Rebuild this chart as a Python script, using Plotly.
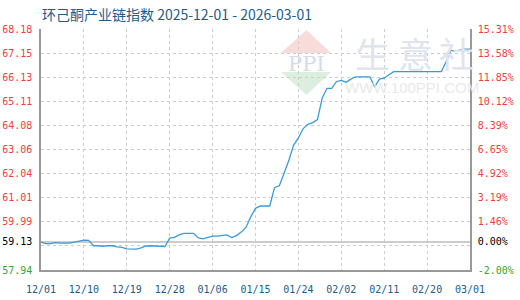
import pandas as pd
import plotly.graph_objects as go

# ---------------- data ----------------
START_DATE = "2025-12-01"
END_DATE = "2026-03-01"
INDEX_VALUES = [
    59.13, 59.06, 59.06, 59.10, 59.08, 59.08, 59.08, 59.12, 59.17, 59.21,
    59.20, 58.97, 58.97, 58.95, 58.97, 58.97, 58.92, 58.90, 58.84, 58.83,
    58.83, 58.88, 58.96, 58.97, 58.95, 58.95, 58.94, 59.30, 59.33, 59.43,
    59.50, 59.50, 59.50, 59.30, 59.26, 59.33, 59.38, 59.38, 59.40, 59.43,
    59.32, 59.40, 59.55, 59.75, 60.20, 60.56, 60.66, 60.66, 60.66, 61.45,
    61.52, 62.05, 62.60, 63.25, 63.55, 63.95, 64.13, 64.20, 64.33, 65.25,
    65.66, 65.66, 65.95, 66.00, 65.92, 66.05, 66.15, 66.15, 66.15, 66.15,
    65.72, 66.05, 66.10, 66.23, 66.37, 66.37, 66.37, 66.37, 66.37, 66.37,
    66.37, 66.37, 66.37, 66.37, 66.37, 66.80, 67.28, 67.22, 67.30, 67.32,
    67.32,
]
Y_MIN = 57.94
Y_MAX = 68.18
BASE_VALUE = 59.13
LEFT_TICK_LABELS = ["57.94", "", "59.99", "61.01", "62.04", "63.06",
                    "64.08", "65.11", "66.13", "67.15", "68.18"]
RIGHT_TICK_LABELS = ["-2.00%", "", "1.46%", "3.19%", "4.92%", "6.65%",
                     "8.39%", "10.12%", "11.85%", "13.58%", "15.31%"]
BASE_LEFT_LABEL = "59.13"
BASE_RIGHT_LABEL = "0.00%"
X_TICK_STEP_DAYS = 9
TITLE = "环己酮产业链指数 2025-12-01 - 2026-03-01"

# ---------------- styling ----------------
W, H = 520, 300
ML, MR, MT, MB = 41, 50, 29, 30
RED = "#f03c3c"
GREEN = "#30a830"
BLACK = "#000000"
BLUE_TXT = "#1d5c8c"
LINE_COLOR = "#3a9ad9"
GRID = "#cccccc"
AXIS = "#999999"
TICK_FONT = dict(family="DejaVu Sans Mono", size=10)

dates = pd.date_range(START_DATE, END_DATE, freq="D")
xticks = pd.date_range(START_DATE, END_DATE, freq=f"{X_TICK_STEP_DAYS}D")

n = len(LEFT_TICK_LABELS) - 1
step = (Y_MAX - Y_MIN) / n
grid_vals = [Y_MIN + k * step for k in range(n + 1)]


def colored(txt, color):
    return f'<span style="color:{color}">{txt}</span>' if txt else ""


left_vals = grid_vals + [BASE_VALUE]
left_text = []
for i, t in enumerate(LEFT_TICK_LABELS):
    left_text.append(colored(t, GREEN if i == 0 else RED))
left_text.append(colored(BASE_LEFT_LABEL, BLACK))

right_text = []
for i, t in enumerate(RIGHT_TICK_LABELS):
    right_text.append(colored(t, GREEN if i == 0 else RED))
right_text.append(colored(BASE_RIGHT_LABEL, BLACK))

fig = go.Figure()
fig.add_trace(go.Scatter(
    x=dates, y=INDEX_VALUES, mode="lines",
    line=dict(color=LINE_COLOR, width=1.3), hoverinfo="x+y",
    showlegend=False, yaxis="y"))
fig.add_trace(go.Scatter(
    x=dates, y=INDEX_VALUES, mode="lines",
    line=dict(color="rgba(0,0,0,0)", width=0), hoverinfo="skip",
    showlegend=False, yaxis="y2"))


def px_x(p):
    return (p - ML) / (W - ML - MR)


def px_y(p):
    return (H - MB - p) / (H - MT - MB)


shapes = []
# watermark logo (decoration)
shapes.append(dict(type="path", xref="paper", yref="paper", layer="between",
                   path=f"M {px_x(281)} {px_y(53)} L {px_x(306.5)} {px_y(30)} L {px_x(331)} {px_y(53)} Z",
                   fillcolor="#f7dcd9", line=dict(width=0)))
shapes.append(dict(type="path", xref="paper", yref="paper", layer="between",
                   path=f"M {px_x(281)} {px_y(72)} L {px_x(306.5)} {px_y(95)} L {px_x(331)} {px_y(72)} Z",
                   fillcolor="#dcefdf", line=dict(width=0)))
# baseline
shapes.append(dict(type="line", xref="paper", yref="y", x0=0, x1=1,
                   y0=BASE_VALUE, y1=BASE_VALUE,
                   line=dict(color=AXIS, width=1.2), layer="between"))

WM_FONT = dict(family="Noto Sans CJK SC", size=35, color="#dfe4ee")
annotations = [
    dict(text="PPI", xref="paper", yref="paper", x=px_x(306), y=px_y(63.5),
         showarrow=False, font=dict(family="DejaVu Serif", size=21, color="#d3dcec"),
         xanchor="center", yanchor="middle"),
    dict(text="生", xref="paper", yref="paper", x=px_x(372), y=px_y(52),
         showarrow=False, font=WM_FONT, xanchor="center", yanchor="middle"),
    dict(text="意", xref="paper", yref="paper", x=px_x(415), y=px_y(52),
         showarrow=False, font=WM_FONT, xanchor="center", yanchor="middle"),
    dict(text="社", xref="paper", yref="paper", x=px_x(456), y=px_y(52),
         showarrow=False, font=WM_FONT, xanchor="center", yanchor="middle"),
    dict(text="WWW.100PPI.COM", xref="paper", yref="paper", x=px_x(412), y=px_y(87),
         showarrow=False, font=dict(family="Liberation Sans", size=15, color="#e9e9e9"),
         xanchor="center", yanchor="middle"),
    dict(text=TITLE, xref="paper", yref="paper", x=px_x(40), y=px_y(14),
         showarrow=False, xanchor="left", yanchor="middle",
         font=dict(family="Noto Sans CJK SC", size=14, color=BLUE_TXT)),
]

fig.update_layout(
    width=W, height=H,
    margin=dict(l=ML, r=MR, t=MT, b=MB, autoexpand=False),
    paper_bgcolor="white", plot_bgcolor="rgba(0,0,0,0)",
    xaxis=dict(type="date", range=[dates[0], dates[-1]], automargin=False,
               tickvals=list(xticks), tickformat="%m/%d",
               showgrid=True, gridcolor=GRID, griddash="3px,3px", gridwidth=1,
               showline=True, linecolor=AXIS, linewidth=1.5,
               ticks="", ticklabelstandoff=9,
               tickfont=dict(TICK_FONT, color=BLUE_TXT), zeroline=False),
    yaxis=dict(range=[Y_MIN, Y_MAX], tickvals=left_vals, ticktext=left_text,
               automargin=False,
               showgrid=True, gridcolor=GRID, griddash="3px,3px", gridwidth=1,
               showline=True, linecolor=AXIS, linewidth=1.5,
               ticks="", ticklabelstandoff=5,
               tickfont=dict(TICK_FONT, color=RED), zeroline=False),
    yaxis2=dict(range=[Y_MIN, Y_MAX], tickvals=left_vals, ticktext=right_text,
                automargin=False,
                overlaying="y", side="right", showgrid=False,
                showline=True, linecolor=AXIS, linewidth=1.5,
                ticks="", ticklabelstandoff=4,
                tickfont=dict(TICK_FONT, color=RED), zeroline=False),
    shapes=shapes, annotations=annotations,
    hovermode="x",
)

fig.write_html("out.html")
